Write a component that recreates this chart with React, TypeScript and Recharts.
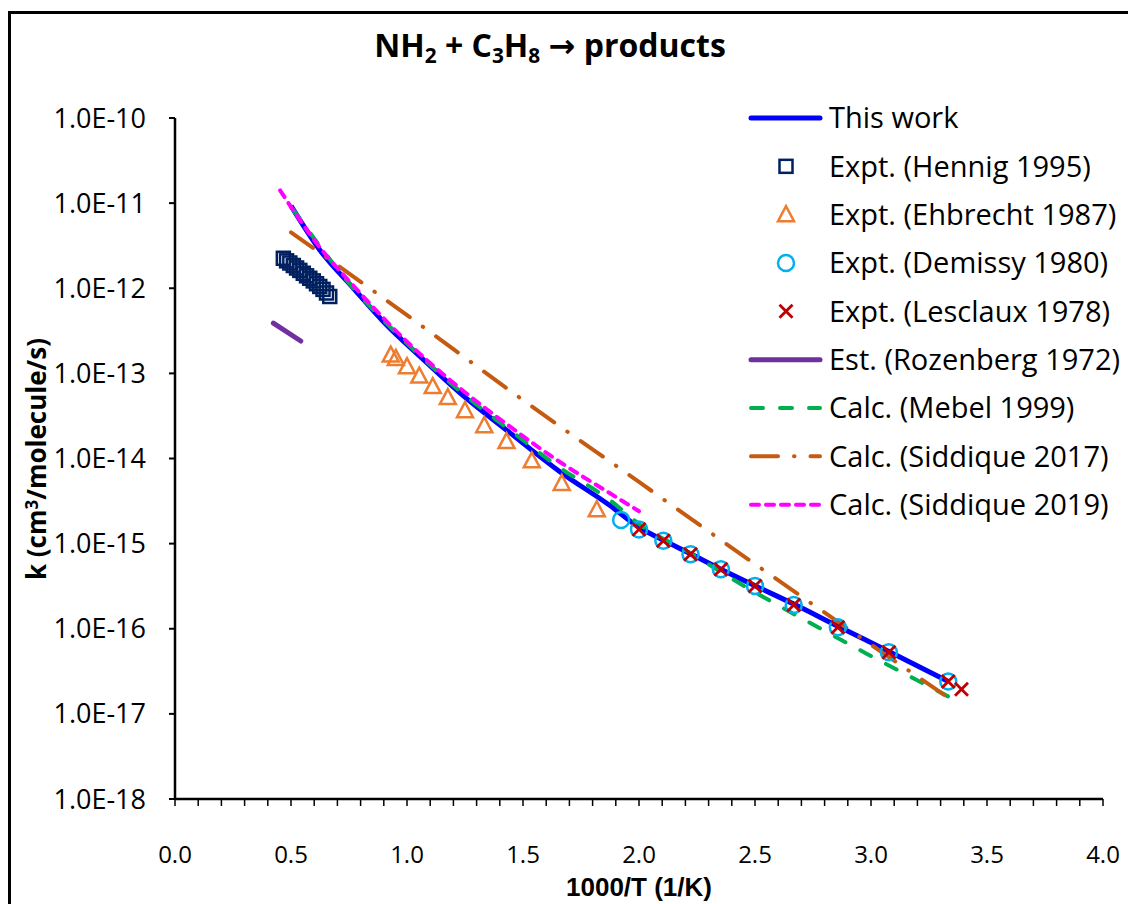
import React from 'react';
import { ComposedChart, Line, Scatter, XAxis, YAxis, Legend } from 'recharts';

const FONT = "'Open Sans', 'DejaVu Sans', sans-serif";
const FONT2 = "'Liberation Sans', Arial, sans-serif";

// ---------------- data (x = 1000/T in 1/K, k in cm3/molecule/s) ----------------
const thisWorkX = [0.5, 0.625, 0.769, 0.912, 1.056, 1.228, 1.444, 1.659, 1.875, 2.0, 2.105, 2.222, 2.353, 2.5, 2.667, 2.857, 3.077, 3.333];
const thisWorkK = [9.3e-12, 2.8e-12, 1.0e-12, 3.7e-13, 1.58e-13, 5.9e-14, 2.0e-14, 7.0e-15, 2.8e-15, 1.55e-15, 1.1e-15, 7.6e-16, 5.0e-16, 3.2e-16, 1.95e-16, 1.07e-16, 5.4e-17, 2.4e-17];

const hennigX = [0.467, 0.481, 0.495, 0.51, 0.524, 0.538, 0.553, 0.567, 0.581, 0.596, 0.61, 0.624, 0.638, 0.653, 0.667];
const hennigK = [2.25e-12, 2.1e-12, 1.98e-12, 1.85e-12, 1.73e-12, 1.62e-12, 1.5e-12, 1.4e-12, 1.31e-12, 1.22e-12, 1.13e-12, 1.05e-12, 0.97e-12, 0.88e-12, 0.8e-12];

const ehbrechtX = [0.93, 0.952, 1.0, 1.053, 1.111, 1.176, 1.25, 1.333, 1.429, 1.538, 1.667, 1.818];
const ehbrechtK = [1.64e-13, 1.5e-13, 1.2e-13, 9.3e-14, 7.0e-14, 5.2e-14, 3.65e-14, 2.43e-14, 1.58e-14, 9.4e-15, 5.1e-15, 2.5e-15];

const demissyX = [1.923, 2.0, 2.105, 2.222, 2.353, 2.5, 2.667, 2.857, 3.077, 3.333];
const demissyK = [1.9e-15, 1.47e-15, 1.08e-15, 7.5e-16, 5.0e-16, 3.18e-16, 1.9e-16, 1.04e-16, 5.3e-17, 2.4e-17];

const lesclauxX = [2.0, 2.105, 2.222, 2.353, 2.5, 2.667, 2.857, 3.077, 3.333, 3.39];
const lesclauxK = [1.47e-15, 1.08e-15, 7.5e-16, 5.0e-16, 3.18e-16, 1.9e-16, 1.04e-16, 5.3e-17, 2.4e-17, 1.95e-17];

const rozenbergX = [0.424, 0.542];
const rozenbergK = [3.9e-13, 2.4e-13];

const mebelX = [0.51, 0.769, 1.0, 1.228, 1.444, 1.659, 1.875, 2.0, 2.222, 2.435, 2.766, 2.981, 3.197, 3.333];
const mebelK = [8.3e-12, 1.0e-12, 2.25e-13, 6.2e-14, 2.15e-14, 7.8e-15, 3.24e-15, 1.7e-15, 7.7e-16, 3.4e-16, 1.06e-16, 5.1e-17, 2.5e-17, 1.6e-17];

const sid2017X = [0.5, 1.0, 1.5, 2.0, 2.5, 3.0, 3.333];
const sid2017K = [4.54e-12, 4.83e-13, 4.86e-14, 5.3e-15, 5.75e-16, 6.5e-17, 1.55e-17];

const sid2019X = [0.453, 0.625, 0.769, 1.0, 1.228, 1.444, 1.659, 1.875, 2.0];
const sid2019K = [1.41e-11, 3.0e-12, 1.07e-12, 2.35e-13, 6.7e-14, 2.37e-14, 9.1e-15, 3.9e-15, 2.4e-15];

const xMajorTicks = [0, 0.5, 1, 1.5, 2, 2.5, 3, 3.5, 4];
const xMinorTicks = Array.from({ length: 41 }, (_, i) => i / 10);
const yMajorTicks = [1e-18, 1e-17, 1e-16, 1e-15, 1e-14, 1e-13, 1e-12, 1e-11, 1e-10];
const yMinorTicks: number[] = [];
for (let e = -18; e < -10; e++) for (let m = 1; m <= 9; m++) yMinorTicks.push(m * Math.pow(10, e));
yMinorTicks.push(1e-10);

const legendLabels = [
  'This work',
  'Expt. (Hennig 1995)',
  'Expt. (Ehbrecht 1987)',
  'Expt. (Demissy 1980)',
  'Expt. (Lesclaux 1978)',
  'Est. (Rozenberg 1972)',
  'Calc. (Mebel 1999)',
  'Calc. (Siddique 2017)',
  'Calc. (Siddique 2019)',
];

// ---------------- styles ----------------
const C = {
  blue: '#0000FF',
  navy: '#002060',
  orange: '#ED7D31',
  cyan: '#00B0F0',
  red: '#C00000',
  purple: '#7030A0',
  green: '#00B050',
  brown: '#C55A11',
  magenta: '#FF00FF',
};

const pts = (xs: number[], ks: number[]) => xs.map((x, i) => ({ x, k: ks[i] }));

const fmtX = (v: number) => (Math.abs(v * 2 - Math.round(v * 2)) < 1e-6 ? v.toFixed(1) : '');
const fmtY = (v: number) => {
  const e = Math.round(Math.log10(v));
  return `1.0E${e < 0 ? '-' : '+'}${Math.abs(e)}`;
};

const SquareShape = (p: any) =>
  p.cx == null ? <g /> : <rect x={p.cx - 6.5} y={p.cy - 6.5} width={13} height={13} fill="none" stroke={C.navy} strokeWidth={2.5} />;
const TriangleShape = (p: any) =>
  p.cx == null ? <g /> : (
    <polygon
      points={`${p.cx},${p.cy - 8.5} ${p.cx - 8},${p.cy + 6.5} ${p.cx + 8},${p.cy + 6.5}`}
      fill="none"
      stroke={C.orange}
      strokeWidth={2.5}
    />
  );
const CircleShape = (p: any) =>
  p.cx == null ? <g /> : <circle cx={p.cx} cy={p.cy} r={8} fill="none" stroke={C.cyan} strokeWidth={2.5} />;
const CrossShape = (p: any) =>
  p.cx == null ? <g /> : (
    <g stroke={C.red} strokeWidth={2.8}>
      <line x1={p.cx - 6.5} y1={p.cy - 6.5} x2={p.cx + 6.5} y2={p.cy + 6.5} />
      <line x1={p.cx - 6.5} y1={p.cy + 6.5} x2={p.cx + 6.5} y2={p.cy - 6.5} />
    </g>
  );

type LegendSym = { kind: 'line' | 'marker'; color: string; width?: number; dash?: string; marker?: string };
const legendSyms: LegendSym[] = [
  { kind: 'line', color: C.blue, width: 5 },
  { kind: 'marker', color: C.navy, marker: 'square' },
  { kind: 'marker', color: C.orange, marker: 'triangle' },
  { kind: 'marker', color: C.cyan, marker: 'circle' },
  { kind: 'marker', color: C.red, marker: 'cross' },
  { kind: 'line', color: C.purple, width: 5 },
  { kind: 'line', color: C.green, width: 4, dash: '12 17' },
  { kind: 'line', color: C.brown, width: 4, dash: '27 16 0.5 16' },
  { kind: 'line', color: C.magenta, width: 4, dash: '8 7' },
];

const renderMarker = (m: string | undefined, cx: number, cy: number) => {
  const p = { cx, cy };
  if (m === 'square') return SquareShape(p);
  if (m === 'triangle') return TriangleShape(p);
  if (m === 'circle') return CircleShape(p);
  return CrossShape(p);
};

const LegendContent = () => (
  <svg width={388} height={440} style={{ overflow: 'visible' }}>
    {legendLabels.map((label, i) => {
      const s = legendSyms[i];
      const cy = 24 + i * 48.33;
      return (
        <g key={label}>
          {s.kind === 'line' ? (
            <line
              x1={11}
              x2={80}
              y1={cy}
              y2={cy}
              stroke={s.color}
              strokeWidth={s.width}
              strokeDasharray={s.dash}
              strokeLinecap="round"
            />
          ) : (
            renderMarker(s.marker, 46, cy)
          )}
          <text x={89} y={cy} dy="0.36em" fontFamily={FONT} fontSize={29} fill="#000">
            {label}
          </text>
        </g>
      );
    })}
  </svg>
);

const axisStroke = { stroke: '#000', strokeWidth: 2.5 };

export default function App() {
  return (
    <div style={{ position: 'fixed', left: 0, top: 0, width: 1128, height: 904, overflow: 'hidden', background: '#fff' }}>
      <div
        style={{
          position: 'absolute',
          left: 8,
          top: 11,
          width: 1300,
          height: 1100,
          border: '3px solid #000',
          boxSizing: 'border-box',
        }}
      />
      <div style={{ position: 'absolute', left: 0, top: 0 }}>
        <ComposedChart width={1128} height={904} margin={{ top: 118, right: 25, bottom: 45, left: 75 }}>
          <XAxis
            xAxisId={0}
            dataKey="x"
            type="number"
            domain={[0, 4]}
            allowDataOverflow
            ticks={xMinorTicks}
            interval={0}
            tickFormatter={fmtX}
            tickSize={7}
            tickMargin={40}
            height={60}
            axisLine={axisStroke}
            tickLine={{ stroke: '#000', strokeWidth: 1.5 }}
            tick={{ fill: '#000', fontSize: 24, fontFamily: FONT }}
          />
          <XAxis
            xAxisId="maj"
            type="number"
            domain={[0, 4]}
            allowDataOverflow
            ticks={xMajorTicks}
            interval={0}
            mirror
            tick={false}
            tickSize={9}
            axisLine={false}
            tickLine={{ stroke: '#000', strokeWidth: 2 }}
          />
          <YAxis
            yAxisId={0}
            dataKey="k"
            type="number"
            scale="log"
            domain={[1e-18, 1e-10]}
            allowDataOverflow
            ticks={yMajorTicks}
            interval={0}
            tickFormatter={fmtY}
            tickSize={6}
            tickMargin={23}
            width={100}
            axisLine={axisStroke}
            tickLine={{ stroke: '#000', strokeWidth: 2 }}
            tick={{ fill: '#000', fontSize: 27, fontFamily: FONT }}
          />
          <YAxis
            yAxisId="minor"
            type="number"
            scale="log"
            domain={[1e-18, 1e-10]}
            allowDataOverflow
            ticks={yMinorTicks}
            interval={0}
            mirror
            tick={false}
            tickSize={8}
            axisLine={false}
            tickLine={{ stroke: '#000', strokeWidth: 1.5 }}
          />

          <Line data={pts(thisWorkX, thisWorkK)} dataKey="k" type="monotone" stroke={C.blue} strokeWidth={5} dot={false} activeDot={false} isAnimationActive={false} name={legendLabels[0]} />
          <Scatter data={pts(hennigX, hennigK)} dataKey="k" shape={SquareShape} isAnimationActive={false} name={legendLabels[1]} />
          <Scatter data={pts(ehbrechtX, ehbrechtK)} dataKey="k" shape={TriangleShape} isAnimationActive={false} name={legendLabels[2]} />
          <Scatter data={pts(demissyX, demissyK)} dataKey="k" shape={CircleShape} isAnimationActive={false} name={legendLabels[3]} />
          <Scatter data={pts(lesclauxX, lesclauxK)} dataKey="k" shape={CrossShape} isAnimationActive={false} name={legendLabels[4]} />
          <Line data={pts(rozenbergX, rozenbergK)} dataKey="k" type="linear" stroke={C.purple} strokeWidth={5} strokeLinecap="round" dot={false} activeDot={false} isAnimationActive={false} name={legendLabels[5]} />
          <Line data={pts(mebelX, mebelK)} dataKey="k" type="monotone" stroke={C.green} strokeWidth={4} strokeDasharray="12 17" strokeLinecap="round" dot={false} activeDot={false} isAnimationActive={false} name={legendLabels[6]} />
          <Line data={pts(sid2017X, sid2017K)} dataKey="k" type="monotone" stroke={C.brown} strokeWidth={4} strokeDasharray="27 16 0.5 16" strokeLinecap="round" dot={false} activeDot={false} isAnimationActive={false} name={legendLabels[7]} />
          <Line data={pts(sid2019X, sid2019K)} dataKey="k" type="monotone" stroke={C.magenta} strokeWidth={4} strokeDasharray="8 7" strokeLinecap="round" dot={false} activeDot={false} isAnimationActive={false} name={legendLabels[8]} />

          <Legend
            layout="vertical"
            align="center"
            verticalAlign="middle"
            content={LegendContent}
            wrapperStyle={{ position: 'absolute', left: 740, top: 94, width: 388, height: 440 }}
          />
        </ComposedChart>
      </div>

      <div
        style={{
          position: 'absolute',
          left: 250,
          width: 600,
          top: 24,
          textAlign: 'center',
          fontFamily: FONT,
          fontWeight: 700,
          fontSize: 32,
          lineHeight: '42px',
          color: '#000',
          whiteSpace: 'nowrap',
        }}
      >
        NH<span style={{ fontSize: '0.65em', position: 'relative', top: '0.3em' }}>2</span> + C
        <span style={{ fontSize: '0.65em', position: 'relative', top: '0.3em' }}>3</span>H
        <span style={{ fontSize: '0.65em', position: 'relative', top: '0.3em' }}>8</span> → products
      </div>

      <div
        style={{
          position: 'absolute',
          left: 36 - 170,
          top: 459 - 20,
          width: 340,
          height: 40,
          lineHeight: '40px',
          transform: 'rotate(-90deg)',
          textAlign: 'center',
          fontFamily: FONT,
          fontWeight: 700,
          fontSize: 26,
          color: '#000',
          whiteSpace: 'nowrap',
        }}
      >
        k (cm<span style={{ fontSize: '0.65em', position: 'relative', top: '-0.5em' }}>3</span>/molecule/s)
      </div>

      <div
        style={{
          position: 'absolute',
          left: 439,
          width: 400,
          top: 872,
          height: 30,
          lineHeight: '30px',
          textAlign: 'center',
          fontFamily: FONT2,
          fontWeight: 700,
          fontSize: 26,
          color: '#000',
          whiteSpace: 'nowrap',
        }}
      >
        1000/T (1/K)
      </div>
    </div>
  );
}
